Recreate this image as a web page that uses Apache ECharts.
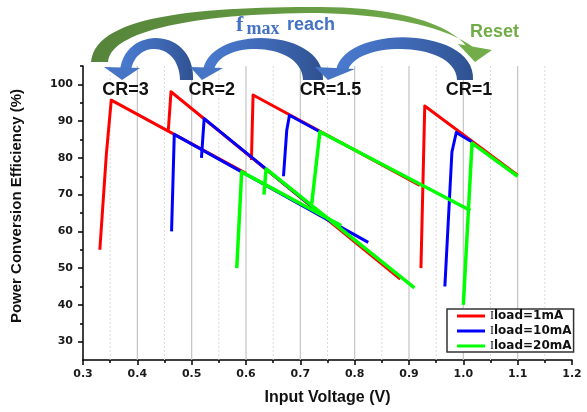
<!DOCTYPE html>
<html><head><meta charset="utf-8">
<script src="https://cdn.jsdelivr.net/npm/echarts@6/dist/echarts.min.js"></script>
<style>html,body{margin:0;padding:0;background:#fff}#c{width:587px;height:412px}</style>
</head><body><div id="c"></div>
<script>
// ---- tick values ----
const xMajorTicks = [0.3,0.4,0.5,0.6,0.7,0.8,0.9,1.0,1.1,1.2];
const xMinorTicks = [0.35,0.45,0.55,0.65,0.75,0.85,0.95,1.05,1.15];
const yMajorTicks = [30,40,50,60,70,80,90,100];
const yMinorTicks = [35,45,55,65,75,85,95,105];
const gridMajorX = [0.4,0.5,0.6,0.7,0.8,0.9,1.0,1.1];
const gridMinorX = [0.35,0.45,0.55,0.65,0.75,0.85,0.95,1.05,1.15];

// ---- series names ----
const seriesNames = ['Iload=1mA','Iload=10mA','Iload=20mA'];
const modeLabels = ['CR=3','CR=2','CR=1.5','CR=1'];

// ---- data: [Vin (V), efficiency (%)] per conversion-ratio segment ----
const red1mA_CR3  = [[0.331,55],[0.343,81],[0.352,95.7],[0.6,75.8]];
const red1mA_CR2  = [[0.457,87.5],[0.462,98],[0.884,47]];
const red1mA_CR15 = [[0.61,79.4],[0.613,97.1],[0.92,72.5]];
const red1mA_CR1  = [[0.922,50],[0.929,94.1],[1.1,75.3]];

const blue10mA_CR3  = [[0.463,60],[0.468,86.4],[0.825,57]];
const blue10mA_CR2  = [[0.518,80],[0.523,90.7],[0.74,64.6]];
const blue10mA_CR15 = [[0.669,75],[0.675,87.5],[0.68,91.6],[0.736,87.1]];
const blue10mA_CR1  = [[0.966,45],[0.979,81.6],[0.987,86.9],[1.016,84.3]];

const green20mA_CR3  = [[0.583,50],[0.592,76.2],[0.775,61.6]];
const green20mA_CR2  = [[0.633,70],[0.637,77],[0.91,44.6]];
const green20mA_CR15 = [[0.721,67.5],[0.736,87.1],[1.013,65.7]];
const green20mA_CR1  = [[1.0,40],[1.016,84],[1.1,75]];

const chart = echarts.init(document.getElementById('c'), null, {renderer:'canvas'});

function seg(name, color, width, data){
  return {type:'line', name:name, data:data, symbol:'none', showSymbol:false,
    lineStyle:{color:color, width:width, join:'round'}, itemStyle:{color:color},
    animation:false, silent:true, z:3};
}
function gridSeries(vals, style){
  return {type:'custom', silent:true, z:1, animation:false,
    data: vals.map(v=>[v,25]), encode:{x:0,y:1},
    renderItem:function(params, api){
      const a = api.coord([api.value(0),105]);
      const b = api.coord([api.value(0),25]);
      return {type:'line', shape:{x1:a[0],y1:a[1],x2:b[0],y2:b[1]}, style:style};
    }};
}

// ---- decoration geometry (pixels) ----
function cubic(p0,p1,p2,p3,n){
  const pts=[];
  for(let i=0;i<=n;i++){const t=i/n,u=1-t;
    pts.push([u*u*u*p0[0]+3*u*u*t*p1[0]+3*u*t*t*p2[0]+t*t*t*p3[0],
              u*u*u*p0[1]+3*u*u*t*p1[1]+3*u*t*t*p2[1]+t*t*t*p3[1]]);}
  return pts;
}
function shaft(outer, inner){ return outer.concat(inner.slice().reverse()); }
const blueGrad = {type:'linear',x:0,y:0,x2:1,y2:0,colorStops:[{offset:0,color:'#4a7bd0'},{offset:0.55,color:'#3f68b4'},{offset:1,color:'#2e5190'}]};
const greenGrad = {type:'linear',x:0,y:0,x2:1,y2:0,colorStops:[{offset:0,color:'#55843a'},{offset:1,color:'#73ae4b'}]};

const blueArrows = [
  {o:[[193,80],[195,27],[125,25],[120,70]], i:[[180,80],[179,41],[136,40],[131,70]], h:[[104,67],[122,80],[140,68]]},
  {o:[[323,80],[325,27],[210,25],[203,70]], i:[[303,80],[302,41],[220,40],[214,70]], h:[[190,67],[202,80],[223,68]]},
  {o:[[473,80],[476,26],[345,24],[336,70]], i:[[457,80],[456,41],[358,40],[348,70]], h:[[315,67],[328,80],[355,69]]}
];
const graphics = [];
// green reset arrow
const gOuter = cubic([91,62],[95,15],[200,7],[320,7],30).concat(cubic([320,7],[400,7],[450,25],[466,46],20));
const gInner = cubic([108,62],[110,30],[200,13],[320,13],30).concat(cubic([320,13],[400,15],[452,30],[474,48],20));
graphics.push({type:'polygon', z:10, shape:{points:shaft(gOuter,gInner)}, style:{fill:greenGrad}});
graphics.push({type:'polygon', z:10, shape:{points:[[458,44],[475,62],[492,50]]}, style:{fill:'#72ad4a'}});
blueArrows.forEach(a=>{
  graphics.push({type:'polygon', z:11, shape:{points:shaft(cubic(a.o[0],a.o[1],a.o[2],a.o[3],30), cubic(a.i[0],a.i[1],a.i[2],a.i[3],30))}, style:{fill:blueGrad}});
  graphics.push({type:'polygon', z:11, shape:{points:a.h}, style:{fill:'#4775c6'}});
});
const labelX = [125.5, 211.7, 330.5, 469];
modeLabels.forEach((t,k)=>{
  graphics.push({type:'text', z:12, x:labelX[k], y:90, style:{text:t, font:'bold 18px "Liberation Sans", Arial, sans-serif', fill:'#111', align:'center', verticalAlign:'middle', textAlign:'center', textVerticalAlign:'middle'}});
});
graphics.push({type:'text', z:12, x:236, y:25.6, style:{text:'f', font:'bold 22px "Liberation Serif", "Times New Roman", serif', fill:'#4472c4', align:'left', verticalAlign:'middle', textAlign:'left', textVerticalAlign:'middle'}});
graphics.push({type:'text', z:12, x:246.5, y:29, style:{text:'max', font:'bold 18px "Liberation Serif", "Times New Roman", serif', fill:'#4472c4', align:'left', verticalAlign:'middle', textAlign:'left', textVerticalAlign:'middle'}});
graphics.push({type:'text', z:12, x:287, y:25.4, style:{text:'reach', font:'bold 18px "Liberation Sans", Arial, sans-serif', fill:'#4472c4', align:'left', verticalAlign:'middle', textAlign:'left', textVerticalAlign:'middle'}});
graphics.push({type:'text', z:12, x:470, y:32, style:{text:'Reset', font:'bold 18px "Liberation Sans", Arial, sans-serif', fill:'#70ad47', align:'left', verticalAlign:'middle', textAlign:'left', textVerticalAlign:'middle'}});
graphics.push({type:'text', z:12, x:16.5, y:206, rotation:Math.PI/2, style:{text:'Power Conversion Efficiency (%)', font:'bold 15px "Liberation Sans", Arial, sans-serif', fill:'#111', align:'center', verticalAlign:'middle', textAlign:'center', textVerticalAlign:'middle'}});

const tickFont = {fontFamily:'DejaVu Sans', fontWeight:'bold', fontSize:11, color:'#1a1a1a'};
const axisLineStyle = {color:'#000', width:1.5};

const option = {
  animation:false,
  backgroundColor:'#fff',
  grid:{left:83, top:66, width:489, height:294, containLabel:false},
  xAxis:[
    {type:'value', min:0.3, max:1.2, position:'bottom',
     axisLine:{show:true, onZero:false, lineStyle:axisLineStyle},
     axisTick:{show:true, length:5, customValues:xMajorTicks, lineStyle:axisLineStyle},
     axisLabel:Object.assign({customValues:xMajorTicks, margin:9, formatter:v=>Number(v).toFixed(1)}, tickFont),
     splitLine:{show:false},
     name:'Input Voltage (V)', nameLocation:'middle', nameGap:30,
     nameTextStyle:{fontFamily:'Liberation Sans', fontWeight:'bold', fontSize:16, color:'#111'}},
    {type:'value', min:0.3, max:1.2, position:'bottom',
     axisLine:{show:false, onZero:false},
     axisTick:{show:true, length:3, customValues:xMinorTicks, lineStyle:axisLineStyle},
     axisLabel:{show:false}, splitLine:{show:false}}
  ],
  yAxis:[
    {type:'value', min:25, max:105, position:'left',
     axisLine:{show:true, onZero:false, lineStyle:axisLineStyle},
     axisTick:{show:true, length:5, customValues:yMajorTicks, lineStyle:axisLineStyle},
     axisLabel:Object.assign({customValues:yMajorTicks, margin:10}, tickFont),
     splitLine:{show:false}},
    {type:'value', min:25, max:105, position:'left',
     axisLine:{show:false, onZero:false},
     axisTick:{show:true, length:3, customValues:yMinorTicks, lineStyle:axisLineStyle},
     axisLabel:{show:false}, splitLine:{show:false}}
  ],
  legend:{data:seriesNames, orient:'vertical', left:447, top:309,
    padding:[1,2,0,10], itemGap:3, itemWidth:28, itemHeight:3, icon:'rect',
    borderColor:'#333', borderWidth:1.5, backgroundColor:'#fff', z:20,
    formatter:n=>'{i|I}{t|'+n.slice(1)+'}',
    textStyle:{lineHeight:12, rich:{
      i:{fontFamily:'Liberation Serif', fontSize:12, color:'#111', lineHeight:12},
      t:{fontFamily:'DejaVu Sans', fontWeight:'bold', fontSize:12, color:'#111', lineHeight:12}}}},
  graphic:graphics,
  series:[
    gridSeries(gridMinorX, {stroke:'#dcdcdc', lineWidth:1, lineDash:[2,2]}),
    gridSeries(gridMajorX, {stroke:'#c4c4c4', lineWidth:1.2}),
    seg(seriesNames[0], '#ff0000', 3, red1mA_CR3),
    seg(seriesNames[0], '#ff0000', 3, red1mA_CR2),
    seg(seriesNames[0], '#ff0000', 3, red1mA_CR15),
    seg(seriesNames[0], '#ff0000', 3, red1mA_CR1),
    seg(seriesNames[1], '#0000ff', 3, blue10mA_CR3),
    seg(seriesNames[1], '#0000ff', 3, blue10mA_CR2),
    seg(seriesNames[1], '#0000ff', 3, blue10mA_CR15),
    seg(seriesNames[1], '#0000ff', 3, blue10mA_CR1),
    seg(seriesNames[2], '#00ff00', 3.5, green20mA_CR3),
    seg(seriesNames[2], '#00ff00', 3.5, green20mA_CR2),
    seg(seriesNames[2], '#00ff00', 3.5, green20mA_CR15),
    seg(seriesNames[2], '#00ff00', 3.5, green20mA_CR1)
  ]
};
chart.setOption(option);
</script></body></html>
